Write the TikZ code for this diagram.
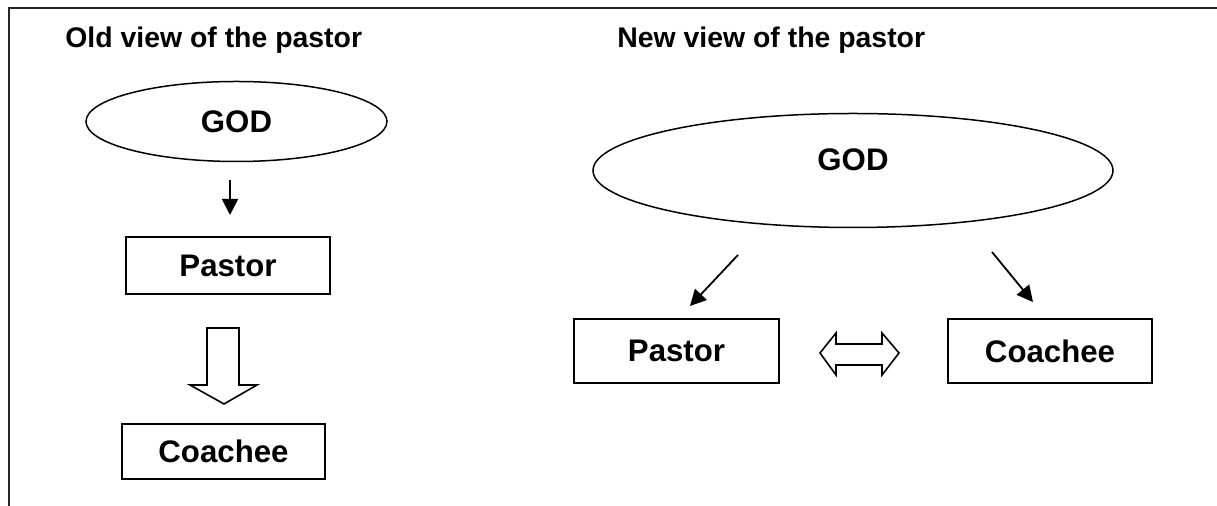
\documentclass[tikz,border=0pt]{standalone}
\usepackage{fontspec}
\setmainfont{Liberation Sans}
\usetikzlibrary{shapes.geometric,arrows.meta}
\begin{document}
\begin{tikzpicture}[x=0.5pt,y=-0.5pt,
  heading/.style={font=\fontsize{14.2pt}{17pt}\selectfont\bfseries, anchor=base west, inner sep=0pt},
  txt/.style={font=\fontsize{15.6pt}{18pt}\selectfont\bfseries},
  box/.style={txt, draw, line width=0.9pt, inner sep=0pt},
  oval/.style={txt, draw, ellipse, line width=0.75pt, inner sep=0pt},
  thin arrow/.style={line width=0.9pt, -{Triangle[length=8pt,width=8pt]}},
  block arrow/.style={draw, line width=0.8pt, line join=miter, fill=white},
  frame/.style={line width=1pt, draw=black!85}]
\useasboundingbox (0,0) rectangle (1217,506);

% open frame: top and left edges
\draw[frame] (1217,8) -- (9,8) -- (9,506);

% ---------- left column: old view ----------
\node[heading] (oldtitle) at (65,48) {Old view of the pastor};
\node[oval, minimum width=150.5pt, minimum height=40pt] (ogod) at (236.5,121.5) {GOD};
\coordinate (oa1) at (230,180);
\coordinate (oa2) at (230,215);
\draw[thin arrow] (oa1) -- (oa2);
\node[box, minimum width=102pt, minimum height=28.5pt] (opastor) at (228,265.5) {Pastor};
% hollow block arrow pointing down
\draw[block arrow] (207,328) -- (239,328) -- (239,385) -- (257,385)
  -- (224,404) -- (190,385) -- (207,385) -- cycle;
\node[box, minimum width=101.5pt, minimum height=27.5pt] (ocoachee) at (223.5,451.5) {Coachee};

% ---------- right column: new view ----------
\node[heading] (newtitle) at (617,48) {New view of the pastor};
\node[oval, minimum width=260pt, minimum height=57pt, text height=11.2pt, text depth=11pt] (ngod) at (853,170.5) {GOD};
\coordinate (na1) at (738,255);
\coordinate (na2) at (690,306);
\coordinate (nb1) at (992,252);
\coordinate (nb2) at (1033,302);
\draw[thin arrow] (na1) -- (na2);
\draw[thin arrow] (nb1) -- (nb2);
\node[box, minimum width=102.5pt, minimum height=32pt] (npastor) at (676.5,351) {Pastor};
\node[box, minimum width=102pt, minimum height=32pt] (ncoachee) at (1050,351) {Coachee};
% hollow double-headed block arrow between the two boxes
\draw[block arrow] (820,353) -- (836,333) -- (836,344) -- (882,344) -- (882,333)
  -- (899,353) -- (882,375) -- (882,365) -- (836,365) -- (836,375) -- cycle;
\end{tikzpicture}
\end{document}
